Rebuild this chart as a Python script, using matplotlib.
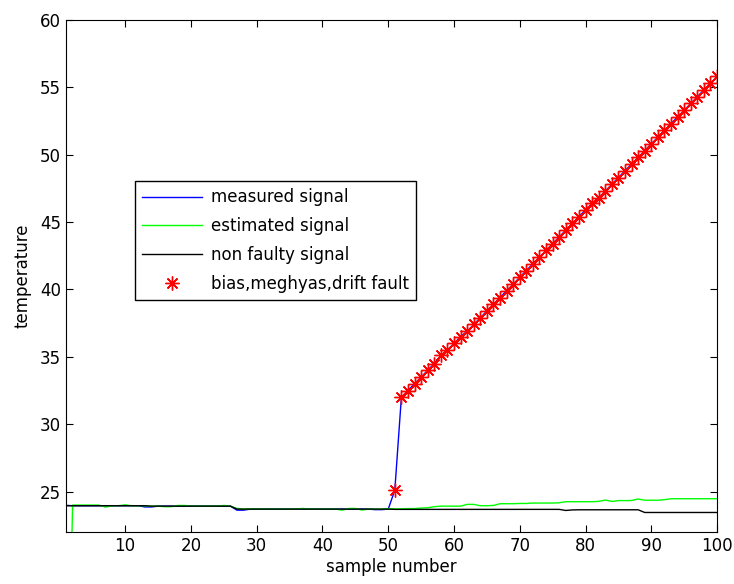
import numpy as np
import matplotlib
matplotlib.use('Agg')
import matplotlib.pyplot as plt

plt.rcParams['font.family'] = ['DejaVu Sans']

# sample index 1..100
samples = list(range(1, 101))

# non faulty signal (black)
non_faulty = ([23.95] * 13 + [23.92] * 13 + [23.70] * 24 +
              [23.68] * 26 + [23.60, 23.64] + [23.65] * 10 + [23.45] * 12)

# measured signal (blue): follows the sensor until the fault at sample 51
measured_pre = ([23.98] + [23.95] * 11 + [23.86, 23.86] + [23.92] * 12 +
                [23.62, 23.62] + [23.70] * 19 + [23.66, 23.66, 23.70])
measured_fault = [25.1, 32.0, 32.5, 33.0, 33.5, 34.0, 34.5, 35.1, 35.5, 36.0,
                  36.5, 36.9, 37.4, 37.9, 38.4, 38.9, 39.4, 39.9, 40.4, 40.9,
                  41.4, 41.9, 42.4, 42.9, 43.4, 43.9, 44.4, 44.9, 45.4, 45.9,
                  46.4, 46.8, 47.3, 47.8, 48.3, 48.8, 49.3, 49.8, 50.3, 50.8,
                  51.3, 51.8, 52.3, 52.8, 53.3, 53.8, 54.3, 54.8, 55.3, 55.8]
measured = measured_pre + measured_fault

# estimated signal (green)
estimated = ([0.0, 24.0, 24.0, 24.0, 24.0, 24.0, 23.85, 23.95, 23.95, 24.02,
              23.95, 23.95, 23.95, 23.92, 23.92, 23.88, 23.88, 23.97, 23.97, 23.92,
              23.92, 23.92, 23.92, 23.92, 23.97, 23.92, 23.75, 23.70, 23.72, 23.72,
              23.70, 23.70, 23.70, 23.70, 23.70, 23.70, 23.75, 23.70, 23.70, 23.70,
              23.70, 23.70, 23.62, 23.75, 23.75, 23.63, 23.70, 23.70, 23.70, 23.74,
              23.72, 23.72, 23.74, 23.74, 23.78, 23.80, 23.88, 23.92, 23.92, 23.92,
              23.92, 24.05, 24.05, 23.95, 23.95, 23.97, 24.10, 24.10, 24.10, 24.12,
              24.12, 24.15, 24.15, 24.15, 24.15, 24.17, 24.25, 24.25, 24.25, 24.25,
              24.25, 24.27, 24.37, 24.27, 24.33, 24.33, 24.34, 24.45, 24.36, 24.36,
              24.36, 24.40] + [24.47] * 8)

fault_samples = samples[50:]
fault_values = measured[50:]

fig = plt.figure(figsize=(7.34, 5.84), dpi=100)
ax = fig.add_axes([0.0899, 0.089, 0.887, 0.877])

ax.plot(samples, measured, color='#0000ff', lw=1.0, label='measured signal')
ax.plot(samples, estimated, color='#00ff00', lw=1.0, label='estimated signal')
ax.plot(samples, non_faulty, color='black', lw=1.0, label='non faulty signal')
ax.plot(fault_samples, fault_values, linestyle='none', marker=(8, 2, 0),
        markersize=10, markeredgewidth=1.0, color='red',
        label='bias,meghyas,drift fault')

ax.set_xlim(1, 100)
ax.set_ylim(22, 60)
ax.set_xticks(range(10, 101, 10))
ax.set_yticks(range(25, 61, 5))
ax.tick_params(direction='in', top=True, right=True, labelsize=12, length=5)
ax.set_xlabel('sample number', fontsize=12, labelpad=2)
ax.set_ylabel('temperature', fontsize=12, labelpad=6)

leg = ax.legend(loc='upper left', bbox_to_anchor=(0.1055, 0.6855),
                borderaxespad=0, fontsize=12, fancybox=False, framealpha=1,
                edgecolor='black', handlelength=3.6, handletextpad=0.5,
                labelspacing=0.65, numpoints=1, borderpad=0.45)
leg.get_frame().set_linewidth(1.0)

fig.savefig('out.png', dpi=100)
